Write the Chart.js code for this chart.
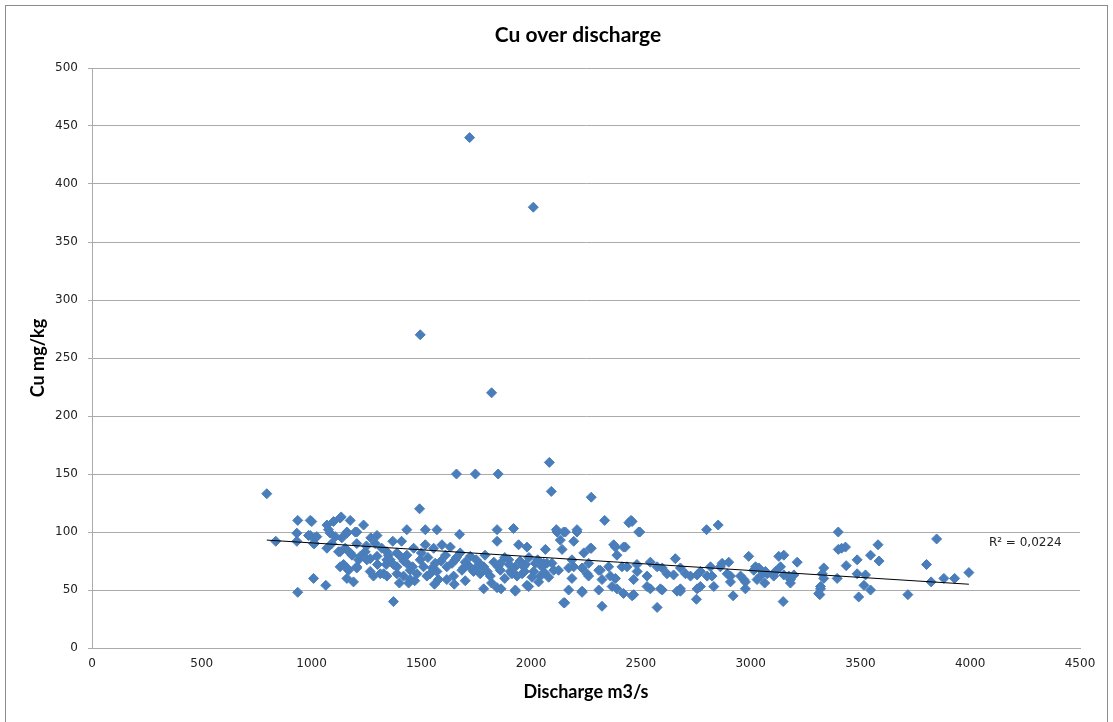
<!DOCTYPE html>
<html>
<head>
<meta charset="utf-8">
<title>Cu over discharge</title>
<script src="https://cdn.jsdelivr.net/npm/chart.js@4"></script>
<style>
    body { margin: 0; background: #fff; }
    #wrap { position: relative; width: 1113px; height: 722px; }
</style>
</head>
<body>
<div id="wrap"><canvas id="cuChart" width="1113" height="722"></canvas></div>
<script>
// discharge (m3/s) and Cu (mg/kg) of each sample, same order in both arrays
const discharge = [
    1720, 2010, 1495, 1820, 1660, 1746, 1850, 2083, 2092, 2274, 796, 1492,
    837, 937, 1001, 933, 933, 986, 1016, 1013, 1070, 1100, 1135, 1176, 1237, 1085, 1108, 1070, 1092, 1138,
    1161, 1199, 1206, 1123, 1153, 1184, 1214, 1146, 1168, 1206, 1244, 1267, 1290, 1282, 1009, 1065, 1161, 1191, 937,
    994, 1130, 994, 1024, 1077, 1161, 1206, 1298, 1009, 1130, 1176, 1222, 1130, 1161, 1206, 1252, 1298, 1343,
    1389, 1358, 1267, 1313, 1343, 1389, 1434, 1419, 1449, 1480, 1510, 1525, 1571, 1616, 1647, 1692, 1738, 1784,
    1814, 1860, 1905, 1936, 1966, 2012, 2042, 2072, 1784, 1863, 1928, 1981, 1845, 1920, 1674, 1518, 1571,
    1434, 1845, 1370, 1410, 1320, 1343, 1328, 1373, 1434, 1465, 1518, 1556, 1594, 1632, 1449, 1442, 1563, 1578,
    1616, 1654, 1685, 1723, 1753, 1845, 1768, 1860, 1373, 1495, 1404, 1389, 1540, 1677,
    2335, 2445, 2118, 2156, 2209, 2133, 2194, 1943, 1981, 2065, 2141, 2240, 2274, 2376, 2421, 2391, 1898,
    1928, 1974, 2019, 1913, 1959, 2004, 2050, 2095, 2125, 2186, 2171, 2232, 2262, 2308, 2353, 2414, 2034, 2080,
    2186, 2262, 2323, 2384, 1928, 1989, 2171, 2232, 2308, 2369, 2421, 2153, 2323,
    2455, 2490, 2799, 2852, 3399, 3399, 2115, 2148, 2209, 2270, 2384, 2429, 2991, 3128, 3151, 3212, 2657,
    2148, 2574, 2753, 2920, 3148, 3315, 3318,
    2232, 2391, 2460, 2543, 2597, 2680, 2756, 2832, 2908, 2976, 3029, 3105, 3181, 3326,
    2057, 2103, 2194, 2255, 2315, 2361, 2437, 2483, 2528, 2574, 2619, 2680, 2726, 2771, 2817, 2870, 2893, 2954,
    3014, 3075, 3136, 3197, 3333, 3394,
    2460, 2495, 2482, 2543, 2597, 2649, 2703, 2756, 2802, 2862, 2900, 2908, 2969, 3022, 2467, 2528, 2589, 2680,
    2771, 2824, 2976, 2467, 2665,
    3414, 3432, 3580, 3037, 3067, 3045, 3064, 3113, 3151, 3174, 3181, 3333, 3318, 3310, 3435, 3485, 3546, 3585,
    3485, 3523, 3516, 3546, 3492,
    3847, 3801, 3822, 3880, 3929, 3994, 3716,
    1300, 1350, 1420, 1460, 1500, 1530, 1550, 1590, 1610, 1640, 1660, 1700, 1720, 1750, 1770, 1790, 1800, 1830,
    1850, 1880, 1900, 1950, 1970, 1990, 2030, 2060, 1880, 1820, 1700, 1650, 1560, 1470, 1400, 1340, 1250, 1270
];
const copper = [
    440, 380, 270, 220, 150, 150, 150, 160, 135, 130, 133, 120,
    92, 110, 109, 99, 92, 97, 95, 90, 106, 109, 113, 110, 106, 99, 96, 86, 90, 95,
    99, 100, 90, 83, 86, 80, 76, 72, 67, 69, 83, 77, 90, 62, 60, 54, 60, 57, 48,
    110, 112, 97, 96, 102, 100, 100, 97, 90, 83, 82, 79, 70, 69, 70, 76, 79, 83,
    82, 76, 66, 64, 62, 70, 73, 62, 59, 64, 70, 62, 66, 70, 62, 69, 66, 70,
    62, 73, 66, 62, 70, 66, 62, 73, 51, 51, 49, 54, 92, 103, 98, 102, 102,
    102, 102, 92, 92, 86, 76, 64, 72, 80, 86, 89, 86, 89, 87, 67, 56, 73, 59,
    59, 76, 67, 79, 70, 52, 64, 67, 40, 76, 79, 64, 64, 82,
    110, 108, 100, 100, 100, 93, 92, 89, 87, 85, 85, 82, 86, 89, 87, 80, 76,
    70, 72, 73, 64, 64, 61, 70, 73, 67, 76, 69, 69, 73, 67, 70, 70, 57, 61,
    60, 62, 59, 60, 50, 53, 50, 49, 50, 53, 47, 39, 36,
    110, 100, 102, 106, 100, 85, 102, 100, 102, 86, 87, 87, 79, 79, 80, 74, 77,
    39, 35, 42, 45, 40, 46, 53,
    48, 51, 45, 51, 50, 49, 51, 53, 57, 57, 59, 62, 59, 64,
    73, 67, 70, 64, 67, 62, 70, 66, 62, 70, 64, 69, 62, 66, 70, 73, 64, 62,
    67, 64, 70, 63, 69, 60,
    109, 100, 72, 74, 69, 63, 64, 63, 62, 70, 74, 62, 59, 70, 59, 53, 51, 51,
    53, 62, 51, 46, 49,
    86, 87, 89, 69, 66, 62, 56, 66, 63, 62, 56, 60, 51, 47, 71, 76, 80, 75,
    64, 63, 54, 50, 44,
    94, 72, 57, 60, 60, 65, 46,
    72, 80, 75, 70, 82, 78, 69, 75, 80, 73, 78, 74, 70, 76, 72, 80, 66, 74,
    70, 78, 72, 75, 66, 78, 76, 65, 60, 56, 58, 55, 55, 58, 56, 72, 88, 95
];

// linear trend as fitted in the source workbook
const trendSlope = -0.0119;
const trendIntercept = 102.5;
const trendLabel = 'R\u00B2 = 0,0224';
const chartTitle = 'Cu over discharge';

const xTicks = [0, 500, 1000, 1500, 2000, 2500, 3000, 3500, 4000, 4500];
const yTicks = [0, 50, 100, 150, 200, 250, 300, 350, 400, 450, 500];

const points = discharge.map((q, i) => ({ x: q, y: copper[i] }));
const xMin = Math.min(...discharge);
const xMax = Math.max(...discharge);
const trendPoints = [xMin, xMax].map(q => ({ x: q, y: trendIntercept + trendSlope * q }));

const gridGrey = '#ababab';
const tickFont = { family: 'DejaVu Sans', size: 12 };

// frame, title over the plot area and the R² text next to the trend line
const extras = {
    id: 'extras',
    beforeDraw(chart) {
        const ctx = chart.ctx;
        ctx.save();
        ctx.fillStyle = '#fff';
        ctx.fillRect(0, 0, chart.width, chart.height);
        ctx.strokeStyle = '#8c8c8c';
        ctx.lineWidth = 1;
        ctx.strokeRect(5.5, 5.5, chart.width - 11, chart.height + 10);
        ctx.restore();
    },
    afterDatasetsDraw(chart) {
        const ctx = chart.ctx;
        const xs = chart.scales.x, ys = chart.scales.y;
        const area = chart.chartArea;
        ctx.save();
        ctx.font = 'bold 21px Lato';
        ctx.fillStyle = '#000';
        ctx.textAlign = 'center';
        ctx.textBaseline = 'middle';
        ctx.fillText(chartTitle, (area.left + area.right) / 2 - 8, 35);

        ctx.font = '12px "DejaVu Sans"';
        ctx.fillStyle = '#222';
        ctx.textAlign = 'left';
        ctx.fillText(trendLabel, xs.getPixelForValue(xMax) + 20, ys.getPixelForValue(trendIntercept + trendSlope * xMax + 36));
        ctx.restore();
    }
};

new Chart(document.getElementById('cuChart'), {
    type: 'scatter',
    data: {
        datasets: [
            {
                label: 'Cu',
                data: points,
                pointStyle: 'rectRot',
                pointRadius: 5,
                pointBorderWidth: 1,
                backgroundColor: '#4a7ebb',
                borderColor: '#4a7ebb',
                order: 2
            },
            {
                label: 'Trend',
                type: 'line',
                data: trendPoints,
                borderColor: '#000',
                borderWidth: 1,
                pointRadius: 0,
                fill: false,
                order: 1
            }
        ]
    },
    plugins: [extras],
    options: {
        responsive: false,
        animation: false,
        events: [],
        layout: { padding: { left: 0, right: 33, top: 68, bottom: 0 } },
        plugins: {
            legend: { display: false },
            tooltip: { enabled: false },
            title: { display: false }
        },
        scales: {
            x: {
                type: 'linear',
                min: 0,
                max: 4500,
                afterBuildTicks: s => { s.ticks = xTicks.map(v => ({ value: v })); },
                afterFit: s => { s.height = 74; },
                grid: { display: false, drawTicks: false },
                border: { display: true, color: gridGrey },
                ticks: { color: '#222', font: tickFont, padding: 9, maxRotation: 0, callback: v => String(v) },
                title: {
                    display: true,
                    text: 'Discharge m3/s',
                    color: '#000',
                    font: { family: 'Lato', size: 18, weight: 'bold', lineHeight: 1.2 },
                    padding: { top: 0, bottom: 19 }
                }
            },
            y: {
                type: 'linear',
                min: 0,
                max: 500,
                afterBuildTicks: s => { s.ticks = yTicks.map(v => ({ value: v })); },
                afterFit: s => { s.width = 92; },
                grid: { color: gridGrey, tickLength: 4 },
                border: { display: true, color: gridGrey },
                ticks: { color: '#222', font: tickFont, padding: 10, callback: v => String(v) },
                title: {
                    display: true,
                    text: 'Cu mg/kg',
                    color: '#000',
                    font: { family: 'Lato', size: 18, weight: 'bold', lineHeight: 1.2 },
                    padding: { top: 27, bottom: 0 }
                }
            }
        }
    }
});
</script>
</body>
</html>
